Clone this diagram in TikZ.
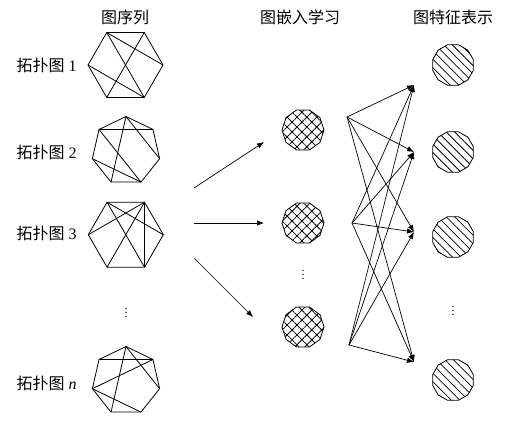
\documentclass[tikz,border=0pt]{standalone}
\usepackage{fontspec}
\setmainfont{Liberation Serif}
\newfontfamily\cjk{Noto Sans CJK SC}
\usetikzlibrary{arrows.meta,shapes.geometric,patterns.meta}
\tikzset{
  heading/.style={font=\cjk\fontsize{16}{19}\selectfont},
  graphname/.style={anchor=west,font=\fontsize{16}{19}\selectfont},
  embed/.style={draw,regular polygon,regular polygon sides=10,minimum size=42pt,inner sep=0pt,
    pattern={Hatch[angle=45,distance=7pt,line width=0.8pt]}},
  feature/.style={draw,regular polygon,regular polygon sides=12,minimum size=42pt,inner sep=0pt,
    pattern={Lines[angle=-45,distance=6pt,line width=0.8pt]}},
  tip/.style={-{Latex[length=7pt,width=5.5pt]}},
  vdot/.style={font=\fontsize{12}{12}\selectfont,inner sep=0pt}
}
\begin{document}
\begin{tikzpicture}[x=1pt,y=-1pt,line width=0.8pt]
      \useasboundingbox (0,0) rectangle (506,424);
      \draw
        (125,17) node[heading] (h1){图序列}
        (300,17) node[heading] (h2){图嵌入学习}
        (453,17) node[heading] (h3){图特征表示};
      \draw
        (13,65) node[graphname] (n1){{\cjk 拓扑图} 1}
        (13,152) node[graphname] (n2){{\cjk 拓扑图} 2}
        (13,233) node[graphname] (n3){{\cjk 拓扑图} 3}
        (13,383) node[graphname] (nn){{\cjk 拓扑图} \textit{n}};
      \begin{scope}[shift={(125.5,65)}]
        \draw (0:37.5) coordinate (a0) -- (60:37.5) coordinate (a1) -- (120:37.5) coordinate (a2)
          -- (180:37.5) coordinate (a3) -- (240:37.5) coordinate (a4) -- (300:37.5) coordinate (a5) -- cycle;
        \draw (a4) to (a0);
        \draw (a4) to (a1);
        \draw (a5) to (a2);
        \draw (a3) to (a1);
      \end{scope}
      \begin{scope}[shift={(126,151)}]
        \draw (-90:34.5) coordinate (b0) -- (-38.57:34.5) coordinate (b1) -- (12.86:34.5) coordinate (b2)
          -- (64.29:34.5) coordinate (b3) -- (115.71:34.5) coordinate (b4) -- (167.14:34.5) coordinate (b5)
          -- (218.57:34.5) coordinate (b6) -- cycle;
        \draw (b6) to (b1);
        \draw (b0) to (b4);
        \draw (b0) to (b2);
        \draw (b6) to (b3);
        \draw (b5) to (b3);
      \end{scope}
      \begin{scope}[shift={(125.8,234.7)}]
        \draw (0:37.5) coordinate (c0) -- (60:37.5) coordinate (c1) -- (120:37.5) coordinate (c2)
          -- (180:37.5) coordinate (c3) -- (240:37.5) coordinate (c4) -- (300:37.5) coordinate (c5) -- cycle;
        \draw (c4) to (c0);
        \draw (c4) to (c1);
        \draw (c5) to (c3);
        \draw (c5) to (c2);
        \draw (c5) to (c1);
      \end{scope}
      \begin{scope}[shift={(126,381)}]
        \draw (-90:34.5) coordinate (d0) -- (-38.57:34.5) coordinate (d1) -- (12.86:34.5) coordinate (d2)
          -- (64.29:34.5) coordinate (d3) -- (115.71:34.5) coordinate (d4) -- (167.14:34.5) coordinate (d5)
          -- (218.57:34.5) coordinate (d6) -- cycle;
        \draw (d6) to (d1);
        \draw (d0) to (d4);
        \draw (d0) to (d2);
        \draw (d5) to (d1);
        \draw (d5) to (d3);
      \end{scope}
      \draw
        (303,130) node[embed] (m1){}
        (303,223) node[embed] (m2){}
        (303,327) node[embed] (m3){}
        (453,65) node[feature] (r1){}
        (453,152) node[feature] (r2){}
        (453,237) node[feature] (r3){}
        (453,380) node[feature] (r4){};
      \draw
        (126,310) node[vdot] (v1){$\vdots$}
        (303,272) node[vdot] (v2){$\vdots$}
        (453,308) node[vdot] (v3){$\vdots$};
      \path
        (194,188) coordinate (l1) (264,142) coordinate (e1)
        (194,223) coordinate (l2) (264,223) coordinate (e2)
        (194,258) coordinate (l3) (253,317) coordinate (e3)
        (347,117) coordinate (s1) (352,223) coordinate (s2) (349,345) coordinate (s3)
        (414,85) coordinate (t1) (414,152) coordinate (t2) (414,232) coordinate (t3) (414,362) coordinate (t4);
      \begin{scope}[tip,line width=0.7pt]
        \draw (l1) to (e1);
        \draw (l2) to (e2);
        \draw (l3) to (e3);
        \foreach \s in {s1,s2,s3}
          \foreach \t in {t1,t2,t3,t4}
            \draw (\s) to (\t);
      \end{scope}
    \end{tikzpicture}
\end{document}
